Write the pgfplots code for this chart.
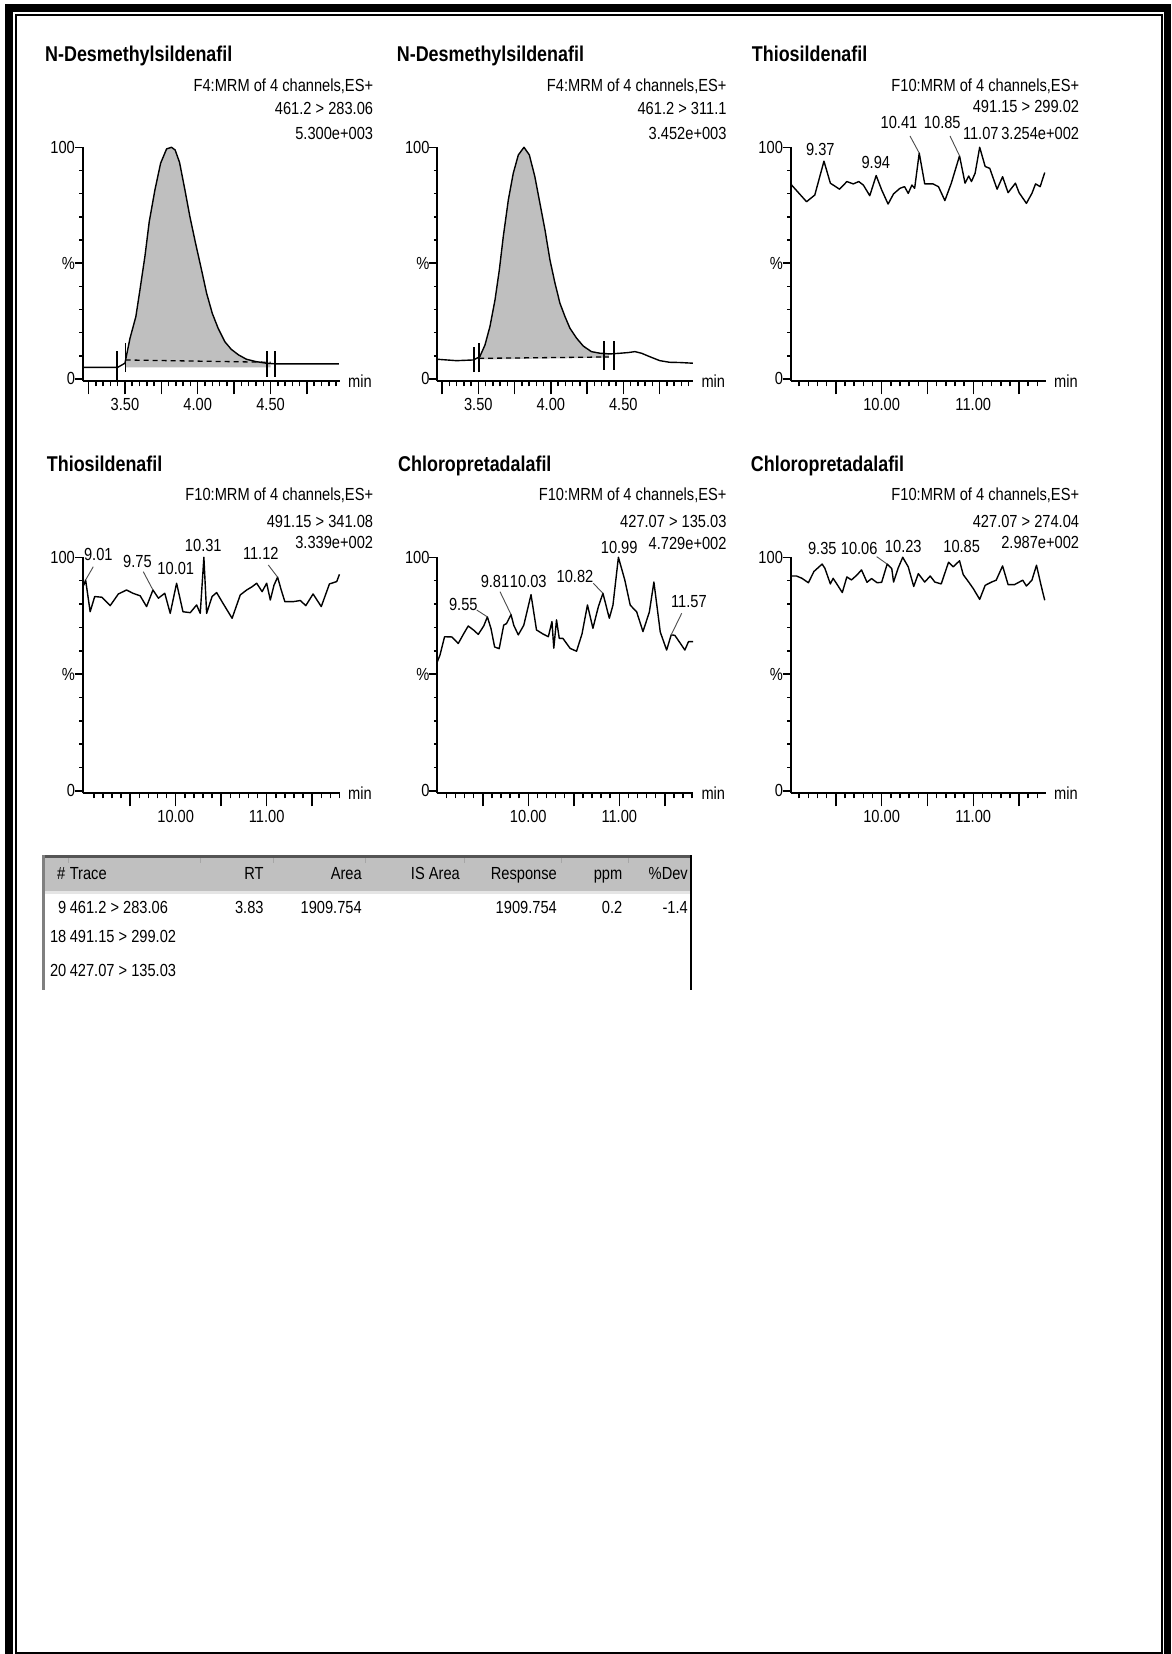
\documentclass[border=0pt]{standalone}
\usepackage{pgfplots}
\pgfplotsset{compat=1.18}
\usepackage{fontspec}
\setmainfont{Liberation Sans}[FakeStretch=0.837]
\newcommand\sm{\fontsize{17.5}{18}\selectfont}
\newcommand\ttl{\fontsize{21.4}{22}\selectfont\bfseries}
\definecolor{peakfill}{HTML}{BFBFBF}
\definecolor{hdrgray}{HTML}{C0C0C0}
\definecolor{framegray}{HTML}{555555}

\pgfplotsset{
  chrom/.style={
    scale only axis, axis lines=left,
    axis line style={-, line width=1.7pt, black},
    ymin=-1, ymax=100, clip=false,
    tick align=outside,
    tick style={black, line width=1.5pt},
    major tick length=13pt, minor tick length=5pt,
    ytick={0,50,100}, yticklabels={0,\%,100},
    minor ytick={10,20,30,40,60,70,80,90},
    ytick style={/pgfplots/major tick length=8pt, /pgfplots/minor tick length=3.5pt},
    ticklabel style={font=\sm, inner sep=0pt},
    xticklabel style={anchor=north, yshift=-4pt},
    yticklabel style={anchor=east, xshift=5.4pt},
  },
  row1/.style={height=234pt},
  row2/.style={height=236pt},
  sild/.style={xtick={3.25,3.5,3.75,4,4.25,4.5,4.75},
    xticklabels={,3.50,,4.00,,4.50,},
    minor xtick={3.30,3.35,...,4.95}},
  late/.style={xtick={9.5,10,10.5,11,11.5},
    xticklabels={,10.00,,11.00,},
    minor xtick={9.1,9.2,...,11.75}},
  trace/.style={black, line width=1.4pt, line join=round},
  integ/.style={black, line width=1.6pt},
}
\tikzset{
  lab/.style={inner sep=0pt, font=\sm},
  leader/.style={black!70, line width=0.9pt},
}

\begin{document}
\begin{tikzpicture}[x=1pt,y=1pt]
\useasboundingbox (0,0) rectangle (1171,1654);
\fill[white] (0,0) rectangle (1171,1654);

% page frame
\fill[black] (5,1650) rectangle (13,0);
\fill[black] (5,1650) rectangle (1171,1642);
\fill[black] (1164,1650) rectangle (1171,0);
\draw[black, line width=2pt] (15.8,1) rectangle (1162,1639);

% ---------- N-Desmethylsildenafil 461.2 > 283.06 ----------
\node[anchor=base west, inner sep=0pt, font=\ttl] at (45,1654-61.5) {N-Desmethylsildenafil};
\node[lab, anchor=base east] at (373.3,1654-91.3) {F4:MRM of 4 channels,ES+};
\node[lab, anchor=base east] at (373.3,1654-114.5) {461.2 > 283.06};
\node[lab, anchor=base east] at (373.3,1654-139.5) {5.300e+003};
\begin{axis}[chrom,row1,sild,at={(82.7pt,1272.7pt)},anchor=south west,
  width=257.3pt,xmin=3.21,xmax=4.977]
\addplot[fill=peakfill, draw=none] coordinates {
 (3.505,5) (3.505,8.3) (3.535,17.6) (3.575,26.9) (3.603,38.4) (3.637,52.8)
 (3.667,67.9) (3.706,81.6) (3.745,93.1) (3.786,99.3) (3.82,100) (3.845,98.8)
 (3.875,93.5) (3.912,81.6) (3.946,70.1) (3.985,58.6) (4.026,47.1) (4.061,37.0)
 (4.10,28.3) (4.14,21.9) (4.186,16.1) (4.23,12.8) (4.28,10.4) (4.335,8.5)
 (4.40,7.5) (4.47,6.8) (4.50,6.7) (4.50,5)} --cycle;
\addplot[trace] coordinates {
 (3.215,5.0) (3.30,5.0) (3.40,5.0) (3.45,5.0) (3.50,6.8) (3.535,17.6)
 (3.575,26.9) (3.603,38.4) (3.637,52.8) (3.667,67.9) (3.706,81.6) (3.745,93.1)
 (3.786,99.3) (3.82,100) (3.845,98.8) (3.875,93.5) (3.912,81.6) (3.946,70.1)
 (3.985,58.6) (4.026,47.1) (4.061,37.0) (4.10,28.3) (4.14,21.9) (4.186,16.1)
 (4.23,12.8) (4.28,10.4) (4.335,8.5) (4.40,7.5) (4.47,6.8) (4.54,6.5)
 (4.68,6.5) (4.97,6.5)};
\addplot[black, line width=1.3pt, dash pattern=on 5pt off 4pt] coordinates {(3.505,8.2) (4.50,7.2)};
\addplot[integ] coordinates {(3.447,-1) (3.447,12)};
\addplot[integ] coordinates {(3.505,3) (3.505,15.5)};
\addplot[integ] coordinates {(4.477,1) (4.477,12)};
\addplot[integ] coordinates {(4.53,1) (4.53,12)};
\node[lab, anchor=west, xshift=8pt] at (rel axis cs:1,0) {min};
\end{axis}

% ---------- N-Desmethylsildenafil 461.2 > 311.1 ----------
\node[anchor=base west, inner sep=0pt, font=\ttl] at (396.7,1654-61.5) {N-Desmethylsildenafil};
\node[lab, anchor=base east] at (726.7,1654-91.3) {F4:MRM of 4 channels,ES+};
\node[lab, anchor=base east] at (726.7,1654-114.5) {461.2 > 311.1};
\node[lab, anchor=base east] at (726.7,1654-139.5) {3.452e+003};
\begin{axis}[chrom,row1,sild,at={(437.3pt,1272.7pt)},anchor=south west,
  width=256pt,xmin=3.217,xmax=4.983]
\addplot[fill=peakfill, draw=none] coordinates {
 (3.505,8.4) (3.51,9.6) (3.546,14.7) (3.58,22.6) (3.615,34.1) (3.645,47.1)
 (3.672,61.4) (3.707,77.3) (3.741,88.8) (3.776,96.7) (3.815,100) (3.852,96.7)
 (3.89,87.3) (3.925,75.8) (3.96,64.3) (3.994,51.4) (4.029,41.3) (4.063,32.7)
 (4.098,26.9) (4.132,21.9) (4.178,17.6) (4.224,14.2) (4.28,11.8) (4.34,11.1)
 (4.40,10.85) (4.40,9.2)} --cycle;
\addplot[trace] coordinates {
 (3.217,8.5) (3.35,7.9) (3.465,8.2) (3.51,9.6) (3.546,14.7) (3.58,22.6)
 (3.615,34.1) (3.645,47.1) (3.672,61.4) (3.707,77.3) (3.741,88.8) (3.776,96.7)
 (3.815,100) (3.852,96.7) (3.89,87.3) (3.925,75.8) (3.96,64.3) (3.994,51.4)
 (4.029,41.3) (4.063,32.7) (4.098,26.9) (4.132,21.9) (4.178,17.6) (4.224,14.2)
 (4.28,11.8) (4.34,11.1) (4.408,10.8) (4.477,11.1) (4.535,11.4) (4.58,11.8)
 (4.626,11.1) (4.683,9.6) (4.752,7.9) (4.82,7.2) (4.89,7.1) (4.98,6.8)};
\addplot[black, line width=1.3pt, dash pattern=on 5pt off 4pt] coordinates {(3.505,8.9) (4.40,9.5)};
\addplot[integ] coordinates {(3.472,3) (3.472,14)};
\addplot[integ] coordinates {(3.505,3) (3.505,15.5)};
\addplot[integ] coordinates {(4.367,4) (4.367,16.5)};
\addplot[integ] coordinates {(4.436,4) (4.436,16.5)};
\node[lab, anchor=west, xshift=8pt] at (rel axis cs:1,0) {min};
\end{axis}

% ---------- Thiosildenafil 491.15 > 299.02 ----------
\node[anchor=base west, inner sep=0pt, font=\ttl] at (751.7,1654-61.5) {Thiosildenafil};
\node[lab, anchor=base east] at (1079.3,1654-91.3) {F10:MRM of 4 channels,ES+};
\node[lab, anchor=base east] at (1079.3,1654-113) {491.15 > 299.02};
\node[lab, anchor=base east] at (1079.3,1654-139.5) {3.254e+002};
\node[lab, anchor=base] at (820.3,1654-155.5) {9.37};
\node[lab, anchor=base] at (875.8,1654-168.8) {9.94};
\node[lab, anchor=base] at (899,1654-128.8) {10.41};
\node[lab, anchor=base] at (942.3,1654-128.8) {10.85};
\node[lab, anchor=base] at (980.8,1654-139.5) {11.07};
\begin{axis}[chrom,row1,late,at={(790.7pt,1272.7pt)},anchor=south west,
  width=255.3pt,xmin=9.007,xmax=11.794]
\addplot[trace] coordinates {
 (9.01,84.0) (9.18,76.5) (9.27,79.4) (9.37,94.0) (9.44,84.5) (9.54,81.9)
 (9.62,85.2) (9.69,84.2) (9.75,85.2) (9.80,83.7) (9.87,79.1) (9.94,87.8)
 (10.00,81.6) (10.07,75.5) (10.13,79.9) (10.20,82.3) (10.25,83.0) (10.29,80.1)
 (10.33,83.7) (10.36,82.3) (10.41,97.5) (10.47,84.2) (10.56,84.2) (10.62,83.0)
 (10.69,77.0) (10.76,84.5) (10.85,96.3) (10.91,84.5) (10.95,87.6) (10.98,85.2)
 (11.02,88.8) (11.07,100) (11.13,91.7) (11.18,90.9) (11.26,81.9) (11.32,87.3)
 (11.38,80.4) (11.46,84.5) (11.50,80.4) (11.58,75.8) (11.64,80.1) (11.68,84.2)
 (11.73,83.0) (11.78,89.1)};
\coordinate (p3a) at (axis cs:10.41,97.5);
\coordinate (p3b) at (axis cs:10.85,96.3);
\node[lab, anchor=west, xshift=8pt] at (rel axis cs:1,0) {min};
\end{axis}
\draw[leader] (910,1654-136) -- (p3a);
\draw[leader] (950,1654-136) -- (p3b);

% ---------- Thiosildenafil 491.15 > 341.08 ----------
\node[anchor=base west, inner sep=0pt, font=\ttl] at (46.7,1654-471.5) {Thiosildenafil};
\node[lab, anchor=base east] at (373.3,1654-500.5) {F10:MRM of 4 channels,ES+};
\node[lab, anchor=base east] at (373.3,1654-527.3) {491.15 > 341.08};
\node[lab, anchor=base east] at (373.3,1654-549) {3.339e+002};
\node[lab, anchor=base] at (98.3,1654-560.5) {9.01};
\node[lab, anchor=base] at (137.5,1654-568) {9.75};
\node[lab, anchor=base] at (175.8,1654-574.5) {10.01};
\node[lab, anchor=base] at (203.3,1654-552) {10.31};
\node[lab, anchor=base] at (260.8,1654-559.5) {11.12};
\begin{axis}[chrom,row2,late,at={(82.7pt,860.7pt)},anchor=south west,
  width=257.3pt,xmin=8.978,xmax=11.806]
\addplot[trace] coordinates {
 (8.99,88.0) (9.01,90.3) (9.06,76.7) (9.11,83.2) (9.19,82.9) (9.28,79.3)
 (9.37,84.3) (9.46,86.0) (9.53,84.6) (9.61,83.5) (9.68,78.9) (9.75,86.0)
 (9.81,82.5) (9.88,84.6) (9.94,76.0) (10.01,88.9) (10.08,76.7) (10.16,76.3)
 (10.23,79.6) (10.27,76.0) (10.31,100) (10.34,76.0) (10.40,83.2) (10.45,84.9)
 (10.52,80.3) (10.62,73.9) (10.71,83.9) (10.78,86.0) (10.84,87.4) (10.89,88.9)
 (10.95,85.3) (11.00,88.9) (11.04,81.7) (11.08,88.0) (11.12,91.5) (11.16,86.0)
 (11.20,81.0) (11.29,81.0) (11.37,81.5) (11.43,79.3) (11.51,84.3) (11.60,78.9)
 (11.69,88.6) (11.77,89.6) (11.80,92.7)};
\coordinate (p4a) at (axis cs:9.01,90.3);
\coordinate (p4b) at (axis cs:9.75,86.0);
\coordinate (p4c) at (axis cs:11.12,91.5);
\node[lab, anchor=west, xshift=8pt] at (rel axis cs:1,0) {min};
\end{axis}
\draw[leader] (93.3,1654-566.7) -- (p4a);
\draw[leader] (143.3,1654-571.7) -- (p4b);
\draw[leader] (268.3,1654-565) -- (p4c);

% ---------- Chloropretadalafil 427.07 > 135.03 ----------
\node[anchor=base west, inner sep=0pt, font=\ttl] at (398,1654-471.5) {Chloropretadalafil};
\node[lab, anchor=base east] at (726.7,1654-500.5) {F10:MRM of 4 channels,ES+};
\node[lab, anchor=base east] at (726.7,1654-527.3) {427.07 > 135.03};
\node[lab, anchor=base east] at (726.7,1654-549.5) {4.729e+002};
\node[lab, anchor=base] at (463.3,1654-610.5) {9.55};
\node[lab, anchor=base] at (495,1654-588) {9.81};
\node[lab, anchor=base] at (528.3,1654-588) {10.03};
\node[lab, anchor=base] at (575,1654-583) {10.82};
\node[lab, anchor=base] at (619.2,1654-553.8) {10.99};
\node[lab, anchor=base] at (688.9,1654-608) {11.57};
\begin{axis}[chrom,row2,late,at={(437.3pt,860.7pt)},anchor=south west,
  width=256pt,xmin=9.0,xmax=11.813]
\addplot[trace] coordinates {
 (9.00,55.3) (9.03,58.2) (9.08,66.0) (9.16,65.9) (9.23,63.1) (9.29,67.3)
 (9.34,70.6) (9.40,68.8) (9.45,67.0) (9.51,70.6) (9.55,74.5) (9.59,69.5)
 (9.63,61.6) (9.68,60.9) (9.73,71.0) (9.76,71.6) (9.81,75.5) (9.84,70.9)
 (9.89,66.8) (9.95,70.9) (10.03,84.0) (10.09,68.9) (10.16,67.2) (10.22,66.0)
 (10.26,72.5) (10.28,61.1) (10.31,73.2) (10.34,65.3) (10.38,65.3) (10.46,61.0)
 (10.53,59.8) (10.59,67.2) (10.65,79.6) (10.71,69.6) (10.77,78.9) (10.82,84.6)
 (10.89,73.9) (10.93,79.5) (10.99,100) (11.06,90.3) (11.12,79.5) (11.19,76.7)
 (11.26,68.2) (11.33,76.6) (11.38,89.4) (11.45,68.0) (11.52,60.3) (11.57,66.8)
 (11.61,66.6) (11.67,63.2) (11.72,60.3) (11.76,63.9) (11.81,63.9)};
\coordinate (p5a) at (axis cs:9.55,74.5);
\coordinate (p5b) at (axis cs:9.81,75.5);
\coordinate (p5c) at (axis cs:10.82,84.6);
\coordinate (p5d) at (axis cs:11.57,66.8);
\node[lab, anchor=west, xshift=8pt] at (rel axis cs:1,0) {min};
\end{axis}
\draw[leader] (476.7,1654-610) -- (p5a);
\draw[leader] (500,1654-591.7) -- (p5b);
\draw[leader] (593.3,1654-583.3) -- (p5c);
\draw[leader] (681.7,1654-613.3) -- (p5d);

% ---------- Chloropretadalafil 427.07 > 274.04 ----------
\node[anchor=base west, inner sep=0pt, font=\ttl] at (750.7,1654-471.5) {Chloropretadalafil};
\node[lab, anchor=base east] at (1079.3,1654-500.5) {F10:MRM of 4 channels,ES+};
\node[lab, anchor=base east] at (1079.3,1654-527.3) {427.07 > 274.04};
\node[lab, anchor=base east] at (1079.3,1654-549) {2.987e+002};
\node[lab, anchor=base] at (822.3,1654-554.5) {9.35};
\node[lab, anchor=base] at (859.2,1654-554.5) {10.06};
\node[lab, anchor=base] at (903.3,1654-552.3) {10.23};
\node[lab, anchor=base] at (961.7,1654-552.3) {10.85};
\begin{axis}[chrom,row2,late,at={(790.7pt,860.7pt)},anchor=south west,
  width=255.3pt,xmin=9.007,xmax=11.794]
\addplot[trace] coordinates {
 (9.01,92.0) (9.07,92.0) (9.13,91.0) (9.20,89.1) (9.26,93.9) (9.35,97.1)
 (9.38,95.3) (9.44,88.6) (9.47,91.0) (9.51,88.6) (9.57,84.9) (9.62,91.6)
 (9.67,90.3) (9.73,92.4) (9.78,94.6) (9.84,89.3) (9.89,90.9) (9.95,89.1)
 (10.00,89.3) (10.06,97.1) (10.11,95.2) (10.13,89.4) (10.18,95.4) (10.23,100)
 (10.29,95.9) (10.35,87.5) (10.40,93.0) (10.47,89.4) (10.53,92.0) (10.58,89.4)
 (10.65,88.6) (10.73,97.9) (10.78,95.9) (10.85,98.5) (10.89,92.6) (10.95,89.4)
 (11.00,86.6) (11.07,82.0) (11.13,88.0) (11.20,89.4) (11.25,90.2) (11.32,96.3)
 (11.38,88.3) (11.45,88.3) (11.54,90.2) (11.58,87.7) (11.64,90.2) (11.69,96.6)
 (11.74,88.0) (11.78,81.6)};
\coordinate (p6a) at (axis cs:10.06,97.1);
\node[lab, anchor=west, xshift=8pt] at (rel axis cs:1,0) {min};
\end{axis}
\draw[leader] (876.7,1654-556.7) -- (p6a);

% ---------- quantification table ----------
\fill[hdrgray] (44.5,1654-857) rectangle (689.5,1654-891);
\fill[gray!20] (44.5,1654-891) rectangle (689.5,1654-894);
\fill[framegray] (41.5,1654-855.5) rectangle (692,1654-858.5);
\fill[gray] (41.5,1654-855.5) rectangle (44.5,1654-990);
\fill[black] (689.5,1654-855.5) rectangle (692,1654-990);
\foreach \cx in {68,200,273,365,464,561,628}
  \draw[gray!70, line width=1pt] (\cx,1654-858.5) -- (\cx,1654-863);

\node[lab, anchor=base east] at (65.4,1654-879.7) {\#};
\node[lab, anchor=base west] at (69.6,1654-879.7) {Trace};
\node[lab, anchor=base east] at (263.8,1654-879.7) {RT};
\node[lab, anchor=base east] at (361.9,1654-879.7) {Area};
\node[lab, anchor=base east] at (460,1654-879.7) {IS Area};
\node[lab, anchor=base east] at (557,1654-879.7) {Response};
\node[lab, anchor=base east] at (622.5,1654-879.7) {ppm};
\node[lab, anchor=base east] at (688,1654-879.7) {\%Dev};

\node[lab, anchor=base east] at (66.5,1654-913.5) {9};
\node[lab, anchor=base west] at (69.6,1654-913.5) {461.2 > 283.06};
\node[lab, anchor=base east] at (263.8,1654-913.5) {3.83};
\node[lab, anchor=base east] at (361.9,1654-913.5) {1909.754};
\node[lab, anchor=base east] at (557,1654-913.5) {1909.754};
\node[lab, anchor=base east] at (622.5,1654-913.5) {0.2};
\node[lab, anchor=base east] at (688,1654-913.5) {-1.4};

\node[lab, anchor=base east] at (66.5,1654-943) {18};
\node[lab, anchor=base west] at (69.6,1654-943) {491.15 > 299.02};
\node[lab, anchor=base east] at (66.5,1654-977) {20};
\node[lab, anchor=base west] at (69.6,1654-977) {427.07 > 135.03};
\end{tikzpicture}
\end{document}
